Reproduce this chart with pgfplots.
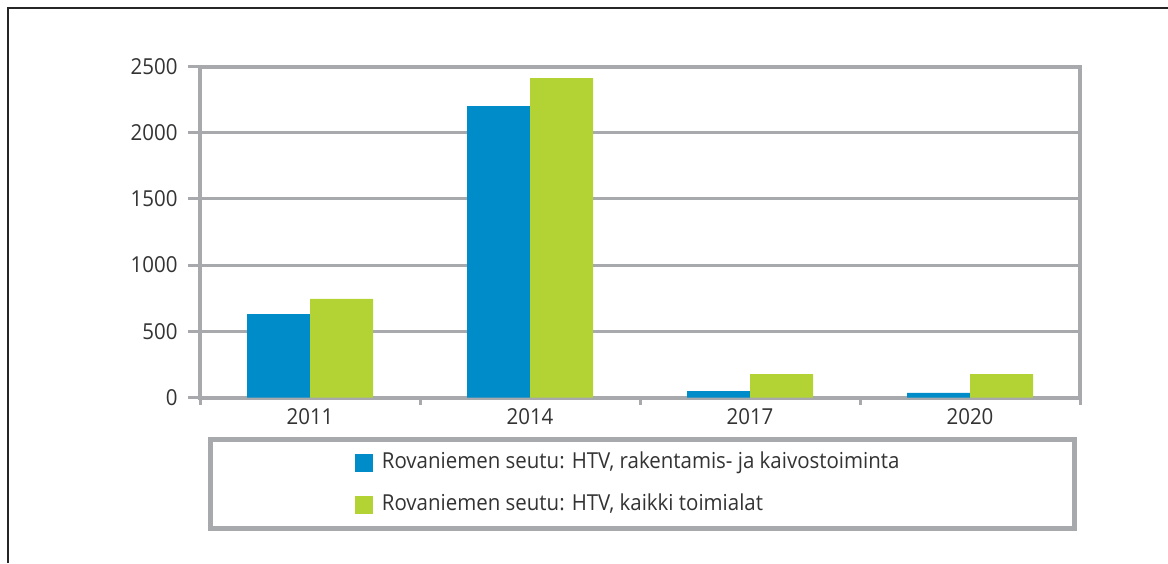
\documentclass[border=0pt]{standalone}
\usepackage{pgfplots}
\pgfplotsset{compat=1.18}
\usepackage{fontspec}
\setmainfont{Open Sans}[FakeStretch=0.93]
\definecolor{barblue}{RGB}{0,139,201}
\definecolor{bargreen}{RGB}{179,211,52}
\definecolor{axgray}{RGB}{167,169,172}
\definecolor{txt}{RGB}{51,51,51}
\begin{document}
\begin{tikzpicture}
\useasboundingbox (0pt,0pt) rectangle (1168pt,563pt);
\draw[line width=1.2pt, black!85] (8pt,0pt) -- (8pt,555pt) -- (1168pt,555pt);
\draw[line width=5pt, axgray] (210.5pt,123.5pt) rectangle (1074.5pt,34.5pt);
\begin{axis}[
  at={(200pt,165.5pt)}, anchor=south west,
  scale only axis, width=880pt, height=331pt,
  xmin=-0.5, xmax=3.5, ymin=0, ymax=2500,
  ybar=0pt, bar width=63pt,
  xtick={0,1,2,3}, xticklabels={2011,2014,2017,2020},
  minor xtick={-0.5,0.5,1.5,2.5,3.5},
  ytick={0,500,1000,1500,2000,2500},
  xtick pos=bottom, ytick pos=left,
  /pgf/number format/assume math mode=true,
  /pgf/number format/1000 sep={},
  ymajorgrids, grid style={line width=3pt, axgray},
  axis line style={line width=4pt, axgray},
  tick align=outside,
  major tick length=12pt, minor tick length=7pt,
  every tick/.style={line width=3pt, axgray},
  every major x tick/.append style={draw=none},
  ticklabel style={font=\fontsize{22}{26}\selectfont, text=txt},
  xticklabel style={yshift=4pt},
  yticklabel style={xshift=-7pt},
  legend style={at={(0.176,-0.2613)}, anchor=west, draw=none, fill=none,
    inner sep=0pt, outer sep=0pt, row sep=23pt, column sep=9pt,
    font=\fontsize{22}{26}\selectfont, text=txt,
    nodes={inner sep=0pt, text height=15pt, text depth=4pt}},
  legend image code/.code={\fill[#1] (0pt,-9pt) rectangle (18pt,9pt);},
  legend cell align=left,
]
\addplot[fill=barblue, draw=none] coordinates {(0,630) (1,2200) (2,49) (3,34)};
\addlegendentry{Rovaniemen seutu: HTV, rakentamis- ja kaivostoiminta}
\addplot[fill=bargreen, draw=none] coordinates {(0,744) (1,2413) (2,177) (3,177)};
\addlegendentry{Rovaniemen seutu: HTV, kaikki toimialat}
\end{axis}
\end{tikzpicture}
\end{document}
